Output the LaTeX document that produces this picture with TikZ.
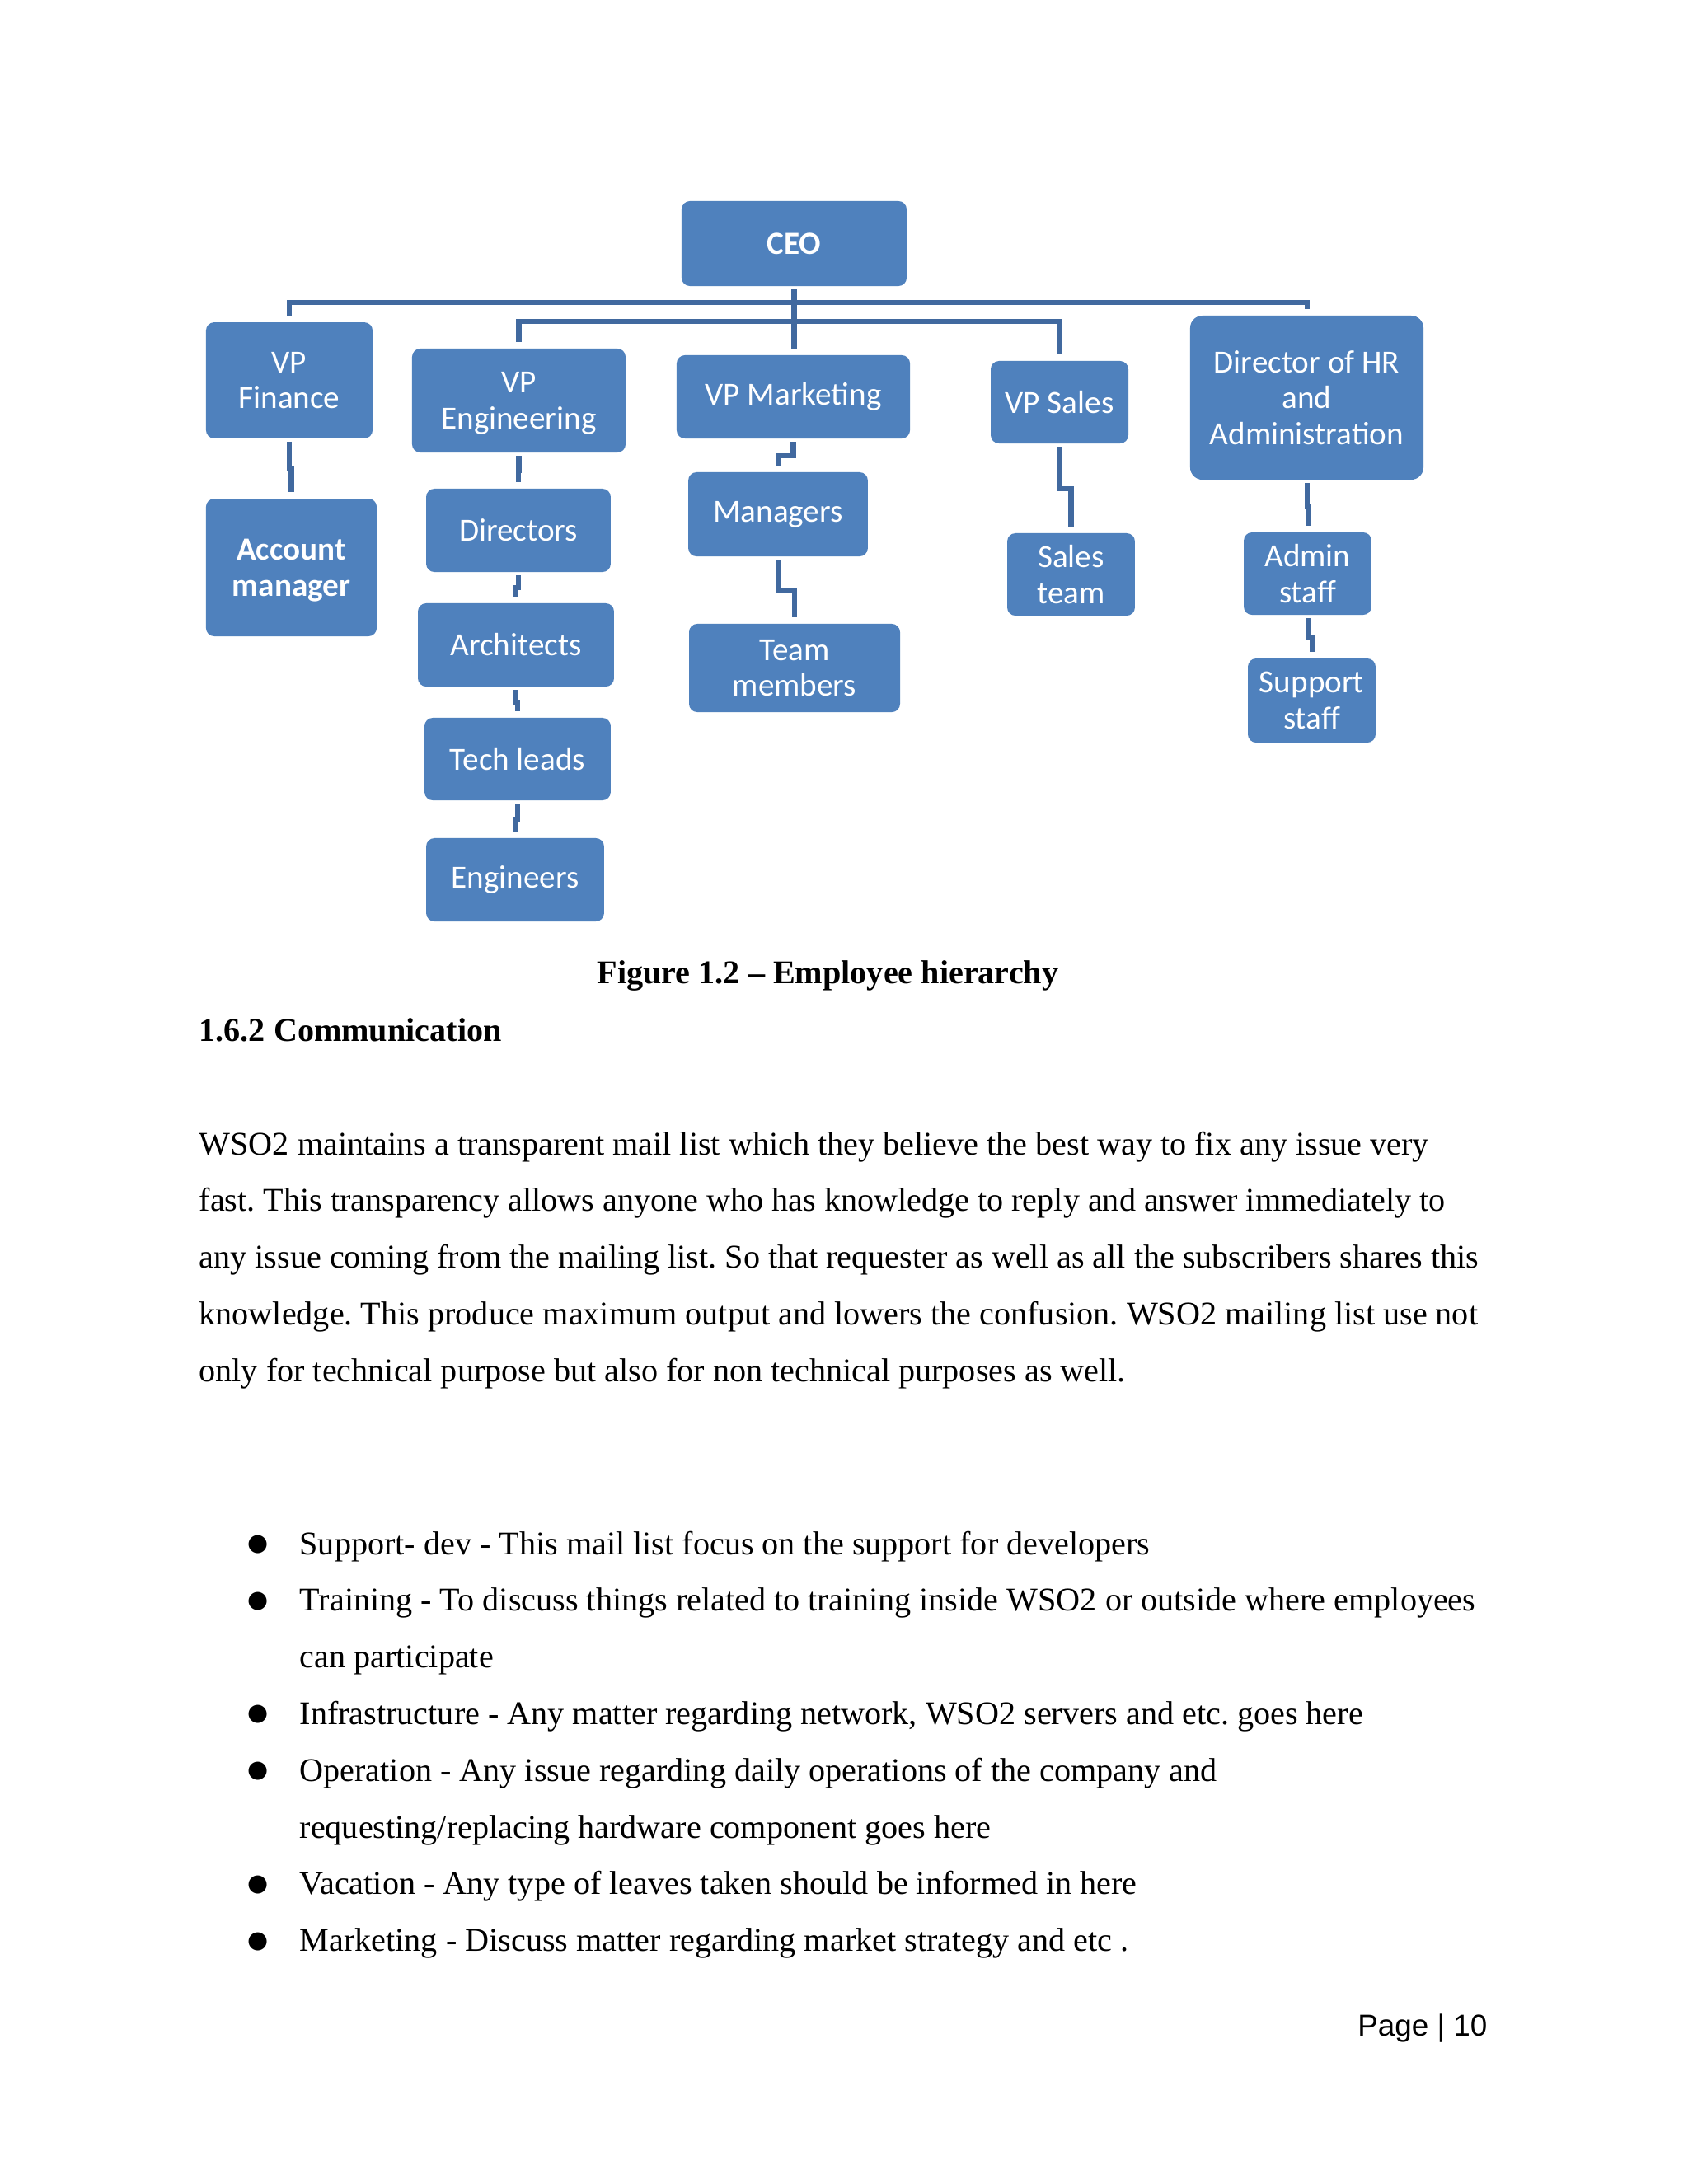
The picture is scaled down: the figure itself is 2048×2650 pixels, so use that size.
\documentclass[tikz,border=0pt]{standalone}
\usepackage{fontspec}
\setmainfont{Liberation Serif}
\newfontfamily\carlito{Carlito}
\newfontfamily\arialfont{Liberation Sans}
\newfontfamily\dejavu{DejaVu Sans}
\usetikzlibrary{calc}
\definecolor{boxblue}{HTML}{4F81BD}
\definecolor{linkblue}{HTML}{41699F}
\tikzset{boxsize/.style 2 args = {minimum width=#1,minimum height=#2}}
\newcommand\nodepth[1]{\raisebox{0pt}[\height][0pt]{#1}}
\frenchspacing

\begin{document}
\begin{tikzpicture}[x=0.298828pt,y=-0.298828pt,
            box/.style = {fill=boxblue,rounded corners=3pt,text=white,
                align=center,inner sep=0pt,
                font=\carlito\fontsize{11.7}{13.1}\selectfont},
            boss/.style = {box,font=\carlito\bfseries\fontsize{11.7}{13.1}\selectfont},
            link/.style = {draw=linkblue,line width=1.8pt,
                shorten <=1pt,shorten >=2.2pt},
            body/.style = {anchor=base west,inner sep=0pt,
                font=\fontsize{12}{14}\selectfont},
            dot/.style = {anchor=center,inner sep=0pt,
                font=\dejavu\fontsize{8.6}{10}\selectfont}]
            \useasboundingbox (0,0) rectangle (2048,2650);
            \fill[white] (0,0) rectangle (2048,2650);
            % top level
            \node[boss,boxsize={81.6pt}{30.8pt}] (ceo) at (963.5,295.5) {CEO};
            \node[box,boxsize={60.4pt}{42.1pt}] (vpf) at (351,461.5) {VP\\Finance};
            \node[box,boxsize={77.4pt}{37.7pt}] (vpe) at (629.5,486) {VP\\\nodepth{Engineering}};
            \node[box,boxsize={84.6pt}{30.2pt}] (vpm) at (962.5,481.5) {VP Marketing};
            \node[box,boxsize={49.9pt}{29.9pt}] (vps) at (1285.5,488) {VP Sales};
            \node[box,boxsize={84.6pt}{59.5pt},rounded corners=4.5pt] (hr) at (1585.5,482.5)
                {Director of HR\\and\\Administration};
            % below the VPs
            \node[boss,boxsize={61.9pt}{49.9pt}] (acct) at (353.5,688.5) {Account\\\nodepth{manager}};
            \node[box,boxsize={66.9pt}{30.2pt}] (dirs) at (629,643.5) {Directors};
            \node[box,boxsize={71.1pt}{30.2pt}] (arch) at (626,782.5) {Architects};
            \node[box,boxsize={67.5pt}{29.9pt}] (tech) at (628,921) {Tech leads};
            \node[box,boxsize={64.5pt}{30.2pt}] (engs) at (625,1067.5) {Engineers};
            \node[box,boxsize={65.1pt}{30.5pt}] (mgrs) at (944,624) {Managers};
            \node[box,boxsize={76.5pt}{32pt}] (team) at (964,810.5) {Team\\members};
            \node[box,boxsize={46.3pt}{29.9pt}] (sales) at (1299.5,697) {Sales\\team};
            \node[box,boxsize={46.3pt}{29.9pt}] (admin) at (1586.5,696) {Admin\\staff};
            \node[box,boxsize={46.3pt}{30.5pt}] (supp) at (1591.5,850) {Support\\staff};
            % connectors
            \foreach \vp/\drop in {vpf/19,hr/19,vpe/42,vps/42}
                \draw[link] (ceo.south) -- ++(0,\drop) -| (\vp.north);
            \draw[link] (ceo.south) -- (ceo.south |- vpm.north);
            \foreach \up/\dn in {vpf/acct,vpe/dirs,dirs/arch,arch/tech,tech/engs,
                    vpm/mgrs,mgrs/team,vps/sales,hr/admin,admin/supp}
                \draw[link] (\up.south) |- ($(\up.south)!.5!(\dn.north)$) -| (\dn.north);
            % page text
            \node[body,anchor=base,font=\bfseries\fontsize{12}{14}\selectfont] (cap)
                at (1004.5,1193) {Figure 1.2 – Employee hierarchy};
            \node[body,font=\bfseries\fontsize{12}{14}\selectfont] (sec)
                at (241,1263) {1.6.2 Communication};
            \foreach \txt [count=\i from 0] in {
                {WSO2 maintains a transparent mail list which they believe the best way to fix any issue very},
                {fast. This transparency allows anyone who has knowledge to reply and answer immediately to},
                {any issue coming from the mailing list. So that requester as well as all the subscribers shares this},
                {knowledge. This produce maximum output and lowers the confusion. WSO2 mailing list use not},
                {only for technical purpose but also for non technical purposes as well.}}
                \node[body] (par\i) at (241,1401+68.8*\i) {\txt};
            \foreach \txt [count=\i from 0] in {
                {Support- dev - This mail list focus on the support for developers},
                {Training - To discuss things related to training inside WSO2 or outside where employees},
                {can participate},
                {Infrastructure - Any matter regarding network, WSO2 servers and etc. goes here},
                {Operation - Any issue regarding daily operations of the company and},
                {requesting/replacing hardware component goes here},
                {Vacation - Any type of leaves taken should be informed in here},
                {Marketing - Discuss matter regarding market strategy and etc .}}
                \node[body] (item\i) at (363,1886+68.8*\i) {\txt};
            \foreach \i in {0,1,3,4,6,7}
                \node[dot] (bul\i) at (313,1874+68.8*\i) {●};
            \node[body,anchor=base east,font=\arialfont\fontsize{11}{13}\selectfont] (page)
                at (1805,2470) {Page | 10};
        \end{tikzpicture}
\end{document}
